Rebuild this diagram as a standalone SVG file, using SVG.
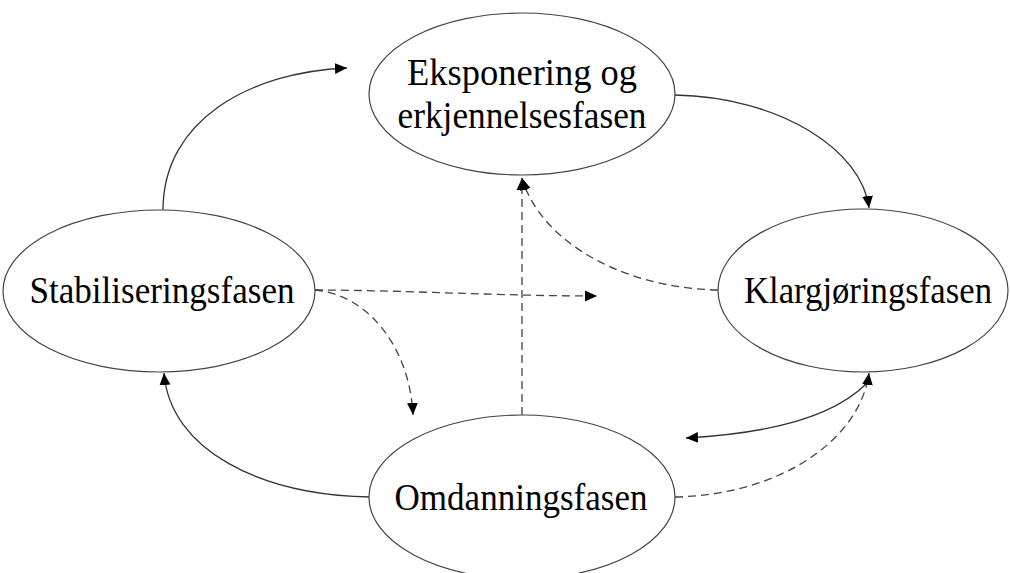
<svg xmlns="http://www.w3.org/2000/svg" width="1010" height="573" viewBox="0 0 1010 573">
  <style>
    .node ellipse { fill: #fff; stroke: #444; stroke-width: 1.2; }
    .node text { font-family: "Liberation Serif", "Times New Roman", serif; font-size: 38px; fill: #000; text-anchor: middle; }
    .edge { fill: none; stroke: #333; stroke-width: 1.3; marker-end: url(#arrow); }
    .dash { stroke-dasharray: 8 5; stroke: #444; }
  </style>
  <defs>
    <marker id="arrow" viewBox="0 0 10 10" refX="10" refY="5" markerWidth="12" markerHeight="12" markerUnits="userSpaceOnUse" orient="auto">
      <path d="M0,0.5 L10,5 L0,9.5 z" fill="#000"/>
    </marker>
  </defs>
  <rect width="1010" height="573" fill="#fff"/>

  <g id="connectors">
    <!-- solid cycle -->
    <path class="edge" d="M163,210 C163,120 250,72 347,68"/>
    <path class="edge" d="M675,95 C780,97 862,150 869,208"/>
    <path class="edge" d="M866,384 C830,420 760,434 686,438"/>
    <path class="edge" d="M370,497 C260,495 170,450 164,373"/>
    <!-- dashed links -->
    <path class="edge dash" d="M718,290 C620,288 540,240 522,178"/>
    <path class="edge dash" d="M522,415 L522,178"/>
    <path class="edge dash" d="M315,290 C400,290 500,296 597,296"/>
    <path class="edge dash" d="M315,290 C370,295 410,350 413,415"/>
    <path class="edge dash" d="M675,497 C780,495 860,440 869,373"/>
  </g>

  <g id="node-eksponering" class="node">
    <ellipse cx="522" cy="94" rx="153" ry="81"/>
    <text x="522" y="85" textLength="230" lengthAdjust="spacingAndGlyphs">Eksponering og</text>
    <text x="522" y="128" textLength="249" lengthAdjust="spacingAndGlyphs">erkjennelsesfasen</text>
  </g>
  <g id="node-stabilisering" class="node">
    <ellipse cx="159" cy="291" rx="156" ry="81"/>
    <text x="162" y="303" textLength="265" lengthAdjust="spacingAndGlyphs">Stabiliseringsfasen</text>
  </g>
  <g id="node-klargjoring" class="node">
    <ellipse cx="863" cy="290.5" rx="145" ry="81.5"/>
    <text x="868" y="303" textLength="248" lengthAdjust="spacingAndGlyphs">Klargjøringsfasen</text>
  </g>
  <g id="node-omdanning" class="node">
    <ellipse cx="522" cy="497" rx="153" ry="82"/>
    <text x="521" y="510" textLength="253" lengthAdjust="spacingAndGlyphs">Omdanningsfasen</text>
  </g>
</svg>
